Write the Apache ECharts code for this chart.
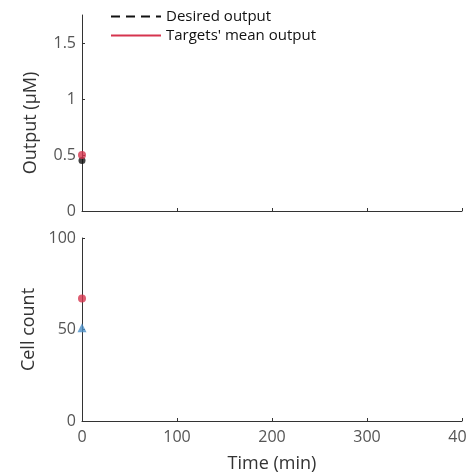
<!DOCTYPE html>
<html>
<head>
<meta charset="utf-8">
<script src="https://cdn.jsdelivr.net/npm/echarts@6/dist/echarts.min.js"></script>
<style>
  html, body { margin: 0; padding: 0; background: #fff; }
  #chart { width: 466px; height: 476px; }
</style>
</head>
<body>
<div id="chart"></div>
<script>
  // data
  var timeTicks = [0, 100, 200, 300, 400];
  var outputTicks = [0, 0.5, 1, 1.5];
  var countTicks = [0, 50, 100];
  var desiredOutput = [[0, 0.45]];
  var targetsMeanOutput = [[0, 0.5]];
  var targetCount = [[0, 67]];
  var otherCount = [[0, 51]];

  var font = 'Open Sans';
  var red = '#d6344e';
  var blue = '#4a8fc7';

  var chart = echarts.init(document.getElementById('chart'));

  function xAxis(idx, labels) {
    return {
      type: 'value', gridIndex: idx, min: 0, max: 400, interval: 100,
      axisLine: { lineStyle: { color: '#333', width: 1 } },
      axisTick: { inside: true, length: 3, customValues: timeTicks, lineStyle: { color: '#333' } },
      axisLabel: { show: labels, customValues: timeTicks, color: '#555', fontSize: 16, fontFamily: font, margin: 8 },
      splitLine: { show: false },
      name: labels ? 'Time (min)' : '', nameLocation: 'middle', nameGap: 34,
      nameTextStyle: { color: '#333', fontSize: 18, fontFamily: font }
    };
  }

  function yAxis(idx, max, ticks, title, shift) {
    return {
      type: 'value', gridIndex: idx, min: 0, max: max,
      axisLine: { show: true, lineStyle: { color: '#333' } },
      axisTick: { inside: true, length: 3, customValues: ticks, lineStyle: { color: '#333' } },
      axisLabel: { customValues: ticks, color: '#555', fontSize: 16, fontFamily: font, margin: 6 },
      splitLine: { show: false },
      name: title, nameLocation: 'middle', nameGap: 42,
      nameTextStyle: { color: '#333', fontSize: 18, fontFamily: font, padding: [0, shift, 0, 0] }
    };
  }

  chart.setOption({
    animation: false,
    legend: {
      left: 105, top: 4, orient: 'vertical', itemGap: 4,
      itemWidth: 50, itemHeight: 16,
      textStyle: { fontSize: 15, fontFamily: font, color: '#111' },
      itemStyle: { opacity: 0 },
      data: ['Desired output', "Targets' mean output"]
    },
    grid: [
      { left: 82, right: 4, top: 15, height: 196, outerBoundsMode: 'none' },
      { left: 82, right: 4, top: 238, height: 183, outerBoundsMode: 'none' }
    ],
    xAxis: [xAxis(0, false), xAxis(1, true)],
    yAxis: [
      yAxis(0, 1.75, outputTicks, 'Output (\u03BCM)', 20),
      yAxis(1, 100, countTicks, 'Cell count', 0)
    ],
    series: [
      {
        name: 'Desired output', type: 'line', xAxisIndex: 0, yAxisIndex: 0,
        data: desiredOutput, symbol: 'none',
        lineStyle: { color: '#111', width: 2.5, type: [9, 6] }, itemStyle: { color: '#111' }
      },
      {
        name: "Targets' mean output", type: 'line', xAxisIndex: 0, yAxisIndex: 0,
        data: targetsMeanOutput, symbol: 'none',
        lineStyle: { color: red, width: 1.5 }, itemStyle: { color: red }
      },
      {
        type: 'scatter', xAxisIndex: 0, yAxisIndex: 0, data: desiredOutput,
        symbol: 'circle', symbolSize: 7, itemStyle: { color: '#111' }
      },
      {
        type: 'scatter', xAxisIndex: 0, yAxisIndex: 0, data: targetsMeanOutput,
        symbol: 'circle', symbolSize: 8, itemStyle: { color: red }
      },
      {
        type: 'scatter', xAxisIndex: 1, yAxisIndex: 1, data: targetCount,
        symbol: 'circle', symbolSize: 8, itemStyle: { color: red }
      },
      {
        type: 'scatter', xAxisIndex: 1, yAxisIndex: 1, data: otherCount,
        symbol: 'triangle', symbolSize: 9, itemStyle: { color: blue }
      }
    ]
  });
</script>
</body>
</html>
